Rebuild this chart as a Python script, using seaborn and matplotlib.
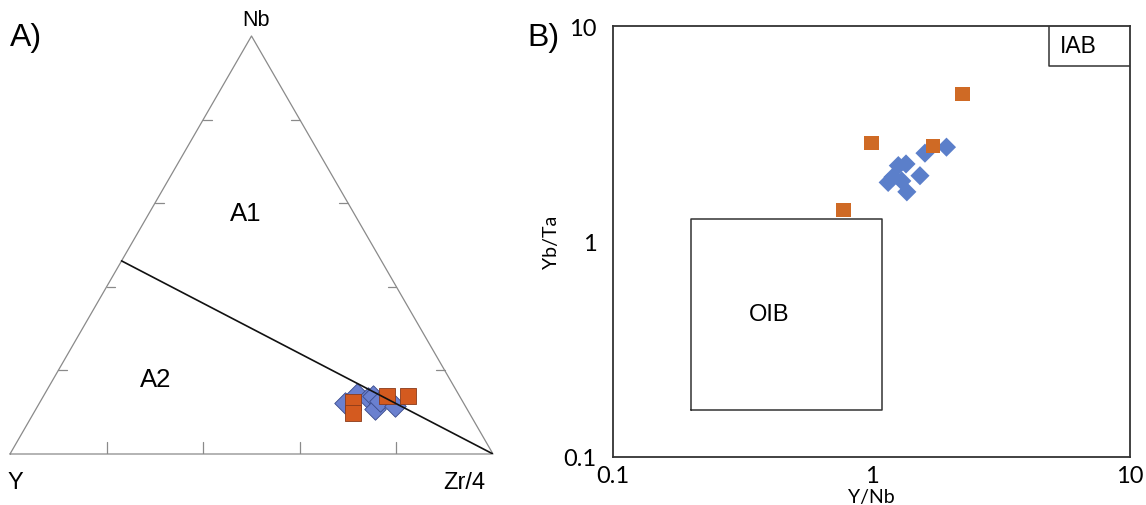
import numpy as np
import pandas as pd
import matplotlib.pyplot as plt
import seaborn as sns
from matplotlib.ticker import LogLocator, FixedLocator, FixedFormatter

sns.set_style("white")
plt.rcParams["font.family"] = ["Liberation Sans", "DejaVu Sans"]
plt.rcParams["text.color"] = "black"
plt.rcParams["axes.labelcolor"] = "black"
plt.rcParams["xtick.color"] = "black"
plt.rcParams["ytick.color"] = "black"

# ---------- data ----------
# ternary Nb - Zr/4 - Y (fractions)
tern_group = ["blue"] * 7 + ["orange"] * 4
tern_nb = [0.122, 0.144, 0.134, 0.139, 0.108, 0.127, 0.115, 0.124, 0.098, 0.139, 0.139]
tern_zr = [0.633, 0.647, 0.674, 0.682, 0.702, 0.703, 0.740, 0.648, 0.661, 0.711, 0.755]

# A1 / A2 boundary: from Nb=0.462 on Y-Nb edge to the Zr/4 apex
boundary_nb = [0.462, 0.0]
boundary_zr = [0.0, 1.0]
tick_fracs = [0.2, 0.4, 0.6, 0.8]

# Y/Nb vs Yb/Ta
log_group = ["orange"] * 4 + ["blue"] * 9
y_nb = [2.25, 1.00, 1.73, 0.78, 1.95, 1.61, 1.27, 1.36, 1.54, 1.16, 1.21, 1.31, 1.37]
yb_ta = [4.84, 2.87, 2.77, 1.40, 2.74, 2.57, 2.25, 2.29, 2.02, 1.88, 1.99, 1.91, 1.70]

oib_box = (0.2, 1.1, 0.165, 1.27)   # x0, x1, y0, y1
iab_box = (4.85, 10.0, 6.5, 10.0)

BLUE = "#5b7fca"
ORANGE = "#cf6a25"
CAL = ["Lato", "DejaVu Sans"]


def tern_xy(nb, zr):
    nb = np.asarray(nb)
    zr = np.asarray(zr)
    return zr + nb / 2, nb * np.sqrt(3) / 2


fig = plt.figure(figsize=(11.46, 5.06), dpi=100)
W, H = 1146, 506

# ---------- A) ternary ----------
axA = fig.add_axes([10 / W, (H - 455) / H, 483 / W, 418 / H])
h = np.sqrt(3) / 2
axA.set_xlim(0, 1)
axA.set_ylim(0, h)
axA.axis("off")

axA.plot([0, 1, 0.5, 0], [0, 0, h, 0], color="#8a8a8a", lw=0.9, clip_on=False)
tl = 0.018
for f in tick_fracs:
    # base ticks (upwards)
    axA.plot([f, f], [0, tl * 1.4], color="#8a8a8a", lw=0.9)
    # left edge ticks (inward)
    lx, ly = tern_xy(f, 0)
    axA.plot([lx, lx + tl], [ly, ly], color="#8a8a8a", lw=0.9)
    # right edge ticks (inward)
    rx, ry = tern_xy(f, 1 - f)
    axA.plot([rx, rx - tl], [ry, ry], color="#8a8a8a", lw=0.9)

bx, by = tern_xy(boundary_nb, boundary_zr)
axA.plot(bx, by, color="#111111", lw=1.2)

tx, ty = tern_xy(tern_nb, tern_zr)
tern_df = pd.DataFrame({"x": tx, "y": ty, "group": tern_group})
sns.scatterplot(data=tern_df[tern_df.group == "blue"], x="x", y="y", marker="D",
                s=120, color="#6a80cf", edgecolor="#3a4a8a", linewidth=0.6,
                ax=axA, legend=False, clip_on=False)
sns.scatterplot(data=tern_df[tern_df.group == "orange"], x="x", y="y", marker="s",
                s=120, color="#d45a1f", edgecolor="#8a3a1a", linewidth=0.6,
                ax=axA, legend=False, clip_on=False)

axA.text(0.51, h + 0.012, "Nb", ha="center", va="bottom", fontsize=15.5)
axA.text(0.012, -0.035, "Y", ha="center", va="top", fontsize=17)
axA.text(0.985, -0.035, "Zr/4", ha="right", va="top", fontsize=17)
axA.text(0.487, 0.5, "A1", ha="center", va="center", fontsize=18.5)
axA.text(0.302, 0.155, "A2", ha="center", va="center", fontsize=18.5)
fig.text(10 / W, 1 - 38 / H, "A)", ha="left", va="center", fontsize=23)

# ---------- B) Y/Nb vs Yb/Ta ----------
axB = fig.add_axes([613 / W, (H - 458) / H, 517 / W, 431 / H])
log_df = pd.DataFrame({"ynb": y_nb, "ybta": yb_ta, "group": log_group})
sns.scatterplot(data=log_df[log_df.group == "blue"], x="ynb", y="ybta", marker="D",
                s=95, color=BLUE, edgecolor="none", ax=axB, legend=False)
sns.scatterplot(data=log_df[log_df.group == "orange"], x="ynb", y="ybta", marker="s",
                s=110, color=ORANGE, edgecolor="none", ax=axB, legend=False)

axB.set_xscale("log")
axB.set_yscale("log")
axB.set_xlim(0.1, 10)
axB.set_ylim(0.1, 10)

x0, x1, y0, y1 = oib_box
axB.plot([x0, x1, x1, x0, x0], [y0, y0, y1, y1, y0], color="#333333", lw=1.1)
x0, x1, y0, y1 = iab_box
axB.plot([x0, x0, x1], [y1, y0, y0], color="#333333", lw=1.1)
axB.text(0.4, 0.46, "OIB", ha="center", va="center", fontsize=17)
axB.text(6.3, 8.1, "IAB", ha="center", va="center", fontsize=16.5)

for s in axB.spines.values():
    s.set_color("#333333")
    s.set_linewidth(1.3)

axB.xaxis.set_major_locator(FixedLocator([0.1, 1, 10]))
axB.xaxis.set_major_formatter(FixedFormatter(["0.1", "1", "10"]))
axB.yaxis.set_major_locator(FixedLocator([0.1, 1, 10]))
axB.yaxis.set_major_formatter(FixedFormatter(["0.1", "1", "10"]))
axB.xaxis.set_minor_locator(LogLocator(base=10, subs=np.arange(2, 10)))
axB.yaxis.set_minor_locator(LogLocator(base=10, subs=np.arange(2, 10)))
axB.xaxis.set_minor_formatter(FixedFormatter([]))
axB.yaxis.set_minor_formatter(FixedFormatter([]))
axB.tick_params(which="both", direction="in", color="#555555", top=False, right=False)
axB.tick_params(which="major", length=5, width=0.8, labelsize=17)
axB.tick_params(axis="y", which="major", pad=12)
axB.tick_params(axis="x", which="major", pad=6)
axB.tick_params(which="minor", length=5, width=0.8)
for lab in axB.get_xticklabels() + axB.get_yticklabels():
    lab.set_family(CAL)
axB.set_xlabel("Y/Nb", fontsize=14, labelpad=1, family=CAL)
axB.set_ylabel("Yb/Ta", fontsize=14, labelpad=2, family=CAL)
fig.text(527 / W, 1 - 38 / H, "B)", ha="left", va="center", fontsize=23)

fig.savefig("out.png", dpi=100)
